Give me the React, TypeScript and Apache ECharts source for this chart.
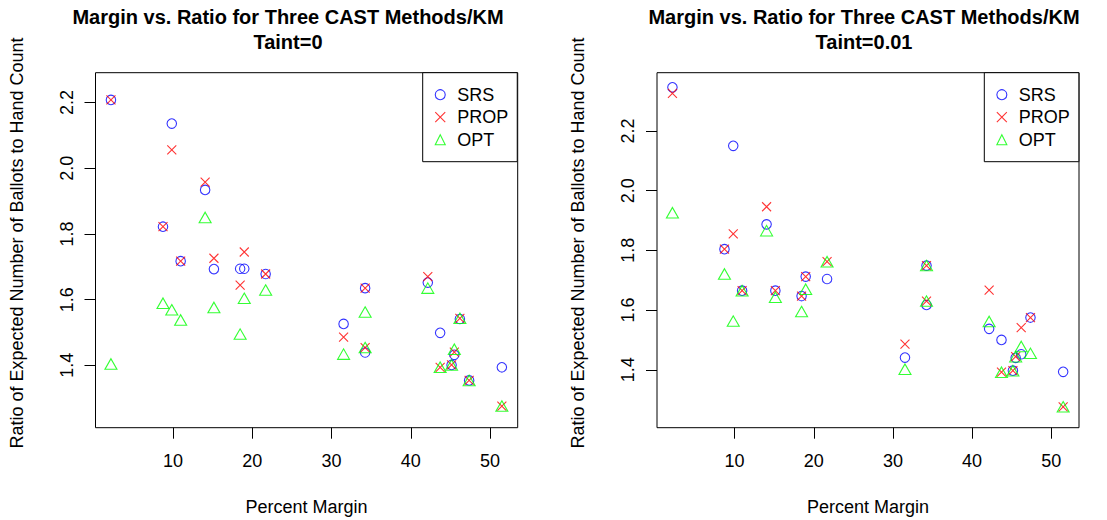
import React, { useEffect, useRef } from "react";
import * as echarts from "echarts";

// Percent margin of each contest (x)
const margins = [2.15, 8.72, 9.83, 10.95, 14.04, 15.15, 18.46, 18.98, 21.68, 31.52, 34.24, 34.24, 42.15, 43.71, 45.15, 45.5, 46.2, 47.37, 51.5];

// Taint = 0
const srsTaint0 = [2.208, 1.822, 2.136, 1.717, 1.934, 1.693, 1.694, 1.694, 1.678, 1.526, 1.635, 1.439, 1.652, 1.499, 1.401, 1.432, 1.541, 1.354, 1.394];
const propTaint0 = [2.208, 1.822, 2.056, 1.717, 1.958, 1.726, 1.644, 1.745, 1.678, 1.486, 1.635, 1.454, 1.670, 1.394, 1.401, 1.440, 1.543, 1.354, 1.276];
const optTaint0 = [1.404, 1.589, 1.569, 1.538, 1.850, 1.576, 1.495, 1.604, 1.629, 1.434, 1.562, 1.454, 1.635, 1.394, 1.401, 1.449, 1.543, 1.354, 1.276];

// Taint = 0.01
const srsTaint1 = [2.346, 1.804, 2.150, 1.665, 1.887, 1.665, 1.647, 1.712, 1.704, 1.441, 1.749, 1.617, 1.537, 1.500, 1.397, 1.440, 1.452, 1.575, 1.393];
const propTaint1 = [2.326, 1.804, 1.855, 1.665, 1.946, 1.665, 1.647, 1.712, 1.762, 1.486, 1.749, 1.630, 1.667, 1.392, 1.397, 1.444, 1.541, 1.575, 1.276];
const optTaint1 = [1.926, 1.721, 1.563, 1.665, 1.866, 1.643, 1.595, 1.670, 1.762, 1.402, 1.749, 1.630, 1.562, 1.392, 1.397, 1.444, 1.478, 1.455, 1.276];

const methodNames = ["SRS", "PROP", "OPT"];
const xTicks = [10, 20, 30, 40, 50];
const yTicks = [1.4, 1.6, 1.8, 2.0, 2.2];
const xRange = [0.2, 53.5];
const yRangeTaint0 = [1.21, 2.291];
const yRangeTaint1 = [1.206, 2.395];
const panelTitles = ["Taint=0", "Taint=0.01"];
const mainTitle = "Margin vs. Ratio for Three CAST Methods/KM";
const xTitle = "Percent Margin";
const yTitle = "Ratio of Expected Number of Ballots to Hand Count";

const FONT = '"Liberation Sans", Arial, Helvetica, sans-serif';
const COLORS = ["#0000ff", "#ff0000", "#00ff00"];
const XPATH = "path://M0,0L10,10M10,0L0,10";
const SYMBOLS = ["circle", XPATH, "triangle"];
const SIZES: any[] = [9.5, 9, [12, 10.5]];

export default function App() {
  const ref = useRef<HTMLDivElement>(null);

  useEffect(() => {
    if (!ref.current) return;
    const chart = echarts.init(ref.current, null, { renderer: "svg" });

    const panels = [
      { left: 95.5, width: 422.2, yRange: yRangeTaint0, values: [srsTaint0, propTaint0, optTaint0], titleX: 288, yTitleX: 17, legendLeft: 422.7 },
      { left: 657, width: 422, yRange: yRangeTaint1, values: [srsTaint1, propTaint1, optTaint1], titleX: 864, yTitleX: 578, legendLeft: 984.3 },
    ];
    const top = 72.7;
    const height = 355;

    const grids = panels.map((p) => ({
      left: p.left,
      top,
      width: p.width,
      height,
      show: true,
      borderColor: "#000",
      borderWidth: 1,
      backgroundColor: "transparent",
      containLabel: false,
    }));

    const xAxes = panels.map((p, i) => ({
      type: "value",
      gridIndex: i,
      min: xRange[0],
      max: xRange[1],
      axisLine: { show: false },
      splitLine: { show: false },
      axisTick: { show: true, inside: false, length: 11, lineStyle: { color: "#000", width: 1 }, customValues: xTicks },
      axisLabel: { show: true, margin: 24, fontSize: 18, color: "#000", fontFamily: FONT, customValues: xTicks, formatter: (v: number) => String(v) },
    }));

    const yAxes = panels.map((p, i) => ({
      type: "value",
      gridIndex: i,
      min: p.yRange[0],
      max: p.yRange[1],
      axisLine: { show: false },
      splitLine: { show: false },
      axisTick: { show: true, inside: false, length: 11, lineStyle: { color: "#000", width: 1 }, customValues: yTicks },
      axisLabel: { show: true, margin: 20, rotate: 90, fontSize: 18, color: "#000", fontFamily: FONT, customValues: yTicks, formatter: (v: number) => v.toFixed(1) },
    }));

    const series: any[] = [];
    panels.forEach((p, pi) => {
      methodNames.forEach((name, mi) => {
        series.push({
          type: "scatter",
          name,
          xAxisIndex: pi,
          yAxisIndex: pi,
          data: margins.map((x, k) => [x, p.values[mi][k]]),
          symbol: SYMBOLS[mi],
          symbolSize: SIZES[mi],
          itemStyle: { color: "transparent", borderColor: COLORS[mi], borderWidth: 1.1 },
          emphasis: { disabled: true },
          silent: true,
          z: 3 + mi,
        });
      });
    });

    const legends = panels.map((p) => ({
      left: p.legendLeft,
      top,
      orient: "vertical",
      backgroundColor: "#fff",
      borderColor: "#000",
      borderWidth: 1,
      borderRadius: 0,
      padding: [13, 9, 13, 12],
      itemGap: 4.5,
      itemWidth: 10,
      itemHeight: 10,
      selectedMode: false,
      textStyle: { fontSize: 18, color: "#000", fontFamily: FONT, padding: [0, 0, 0, 7] },
      data: methodNames.map((name, mi) => ({
        name,
        icon: mi === 0 ? "circle" : mi === 1 ? XPATH : "triangle",
        itemStyle: { color: "transparent", borderColor: COLORS[mi], borderWidth: 1.1 },
      })),
    }));

    const graphics: any[] = [];
    panels.forEach((p, pi) => {
      graphics.push({
        type: "text",
        x: p.titleX,
        y: 17,
        style: { text: mainTitle, font: `bold 20px ${FONT}`, fill: "#000", align: "center", verticalAlign: "middle" },
      });
      graphics.push({
        type: "text",
        x: p.titleX,
        y: 42,
        style: { text: panelTitles[pi], font: `bold 20px ${FONT}`, fill: "#000", align: "center", verticalAlign: "middle" },
      });
      graphics.push({
        type: "text",
        x: p.left + p.width / 2,
        y: 506.7,
        style: { text: xTitle, font: `18px ${FONT}`, fill: "#000", align: "center", verticalAlign: "middle" },
      });
      graphics.push({
        type: "text",
        x: p.yTitleX,
        y: 243,
        rotation: Math.PI / 2,
        style: { text: yTitle, font: `18px ${FONT}`, fill: "#000", align: "center", verticalAlign: "middle" },
      });
    });

    chart.setOption({
      animation: false,
      backgroundColor: "#fff",
      grid: grids,
      xAxis: xAxes,
      yAxis: yAxes,
      legend: legends,
      series,
      graphic: graphics,
    });

    return () => chart.dispose();
  }, []);

  return (
    <div
      ref={ref}
      style={{ position: "absolute", left: 0, top: 0, width: 1107, height: 520 }}
    />
  );
}
